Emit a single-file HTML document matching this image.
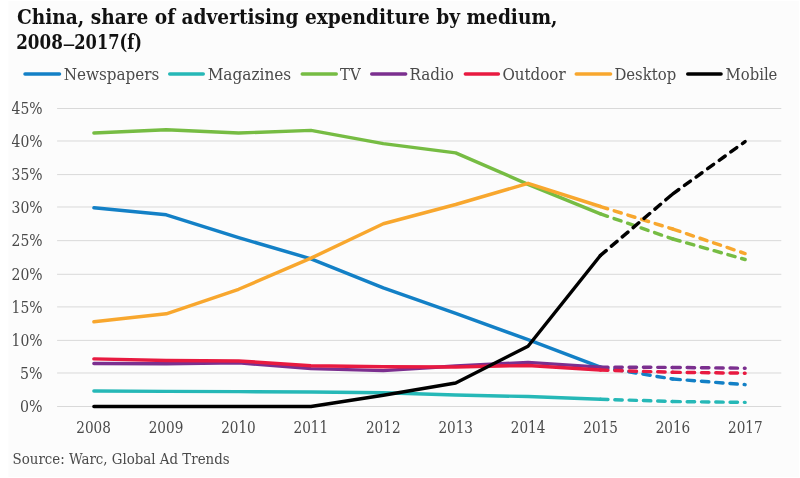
<!DOCTYPE html>
<html><head><meta charset="utf-8"><title>China, share of advertising expenditure by medium</title>
<style>
html,body{margin:0;padding:0;background:#fff;width:800px;height:478px;overflow:hidden}
svg{display:block;will-change:transform}
text{font-family:"DejaVu Serif Condensed","DejaVu Serif","Liberation Serif",serif;font-stretch:condensed}
.ttl{font-weight:bold;font-size:20.6px;fill:#111}
.lab text{font-size:15.8px;fill:#4a4a4a}
.leg text{font-size:16.5px;fill:#4a4a4a}
.grid line{stroke:#d9d9d9;stroke-width:1}
.ser polyline,.leg line{fill:none;stroke-width:3.45;stroke-linecap:round;stroke-linejoin:round}
.ser .d{stroke-dasharray:7.4 6.9;stroke-dashoffset:-0.15}
.src{font-size:14.7px;fill:#4a4a4a}
</style></head>
<body>
<svg width="800" height="478" viewBox="0 0 800 478">
<rect x="8.5" y="1" width="790.5" height="476" fill="#fcfcfc"/>
<text class="ttl" x="17" y="23.6" textLength="540.5" lengthAdjust="spacingAndGlyphs">China, share of advertising expenditure by medium,</text>
<text class="ttl" x="16.2" y="49.2" textLength="46.6" lengthAdjust="spacingAndGlyphs">2008</text><text class="ttl" transform="translate(62.3 0) scale(1.45 0.67)" x="0" y="72.96">–</text><text class="ttl" x="74.3" y="49.2" textLength="67.6" lengthAdjust="spacingAndGlyphs">2017(f)</text>
<g class="leg">
<line x1="24.98" x2="59.52" y1="74" y2="74" stroke="#1380c6"/>
<text x="63.65" y="79.5" textLength="95.60" lengthAdjust="spacingAndGlyphs">Newspapers</text>
<line x1="169.72" x2="203.28" y1="74" y2="74" stroke="#26b8b7"/>
<text x="207.65" y="79.5" textLength="83.60" lengthAdjust="spacingAndGlyphs">Magazines</text>
<line x1="302.23" x2="336.27" y1="74" y2="74" stroke="#76bc43"/>
<text x="340.00" y="79.5" textLength="20.60" lengthAdjust="spacingAndGlyphs">TV</text>
<line x1="371.73" x2="405.67" y1="74" y2="74" stroke="#7b2f8f"/>
<text x="409.40" y="79.5" textLength="44.60" lengthAdjust="spacingAndGlyphs">Radio</text>
<line x1="465.33" x2="498.38" y1="74" y2="74" stroke="#e81a40"/>
<text x="502.40" y="79.5" textLength="63.30" lengthAdjust="spacingAndGlyphs">Outdoor</text>
<line x1="576.23" x2="610.57" y1="74" y2="74" stroke="#f8a72e"/>
<text x="614.40" y="79.5" textLength="61.80" lengthAdjust="spacingAndGlyphs">Desktop</text>
<line x1="687.73" x2="721.07" y1="74" y2="74" stroke="#000000"/>
<text x="725.60" y="79.5" textLength="51.80" lengthAdjust="spacingAndGlyphs">Mobile</text>
</g>
<g class="grid">
<line x1="57.1" x2="781.3" y1="406.50" y2="406.50"/>
<line x1="57.1" x2="781.3" y1="373.00" y2="373.00"/>
<line x1="57.1" x2="781.3" y1="340.40" y2="340.40"/>
<line x1="57.1" x2="781.3" y1="306.90" y2="306.90"/>
<line x1="57.1" x2="781.3" y1="274.30" y2="274.30"/>
<line x1="57.1" x2="781.3" y1="240.65" y2="240.65"/>
<line x1="57.1" x2="781.3" y1="207.00" y2="207.00"/>
<line x1="57.1" x2="781.3" y1="174.60" y2="174.60"/>
<line x1="57.1" x2="781.3" y1="141.00" y2="141.00"/>
<line x1="57.1" x2="781.3" y1="108.50" y2="108.50"/>
</g>
<g class="lab">
<text x="20.10" y="412.10" textLength="22.5" lengthAdjust="spacingAndGlyphs">0%</text>
<text x="20.10" y="378.60" textLength="22.5" lengthAdjust="spacingAndGlyphs">5%</text>
<text x="11.60" y="346.00" textLength="31" lengthAdjust="spacingAndGlyphs">10%</text>
<text x="11.60" y="312.50" textLength="31" lengthAdjust="spacingAndGlyphs">15%</text>
<text x="11.60" y="279.90" textLength="31" lengthAdjust="spacingAndGlyphs">20%</text>
<text x="11.60" y="246.25" textLength="31" lengthAdjust="spacingAndGlyphs">25%</text>
<text x="11.60" y="212.60" textLength="31" lengthAdjust="spacingAndGlyphs">30%</text>
<text x="11.60" y="180.20" textLength="31" lengthAdjust="spacingAndGlyphs">35%</text>
<text x="11.60" y="146.60" textLength="31" lengthAdjust="spacingAndGlyphs">40%</text>
<text x="11.60" y="114.10" textLength="31" lengthAdjust="spacingAndGlyphs">45%</text>
<text x="76.30" y="433.3" textLength="34.6" lengthAdjust="spacingAndGlyphs">2008</text>
<text x="148.72" y="433.3" textLength="34.6" lengthAdjust="spacingAndGlyphs">2009</text>
<text x="221.14" y="433.3" textLength="34.6" lengthAdjust="spacingAndGlyphs">2010</text>
<text x="293.56" y="433.3" textLength="34.6" lengthAdjust="spacingAndGlyphs">2011</text>
<text x="365.98" y="433.3" textLength="34.6" lengthAdjust="spacingAndGlyphs">2012</text>
<text x="438.40" y="433.3" textLength="34.6" lengthAdjust="spacingAndGlyphs">2013</text>
<text x="510.82" y="433.3" textLength="34.6" lengthAdjust="spacingAndGlyphs">2014</text>
<text x="583.24" y="433.3" textLength="34.6" lengthAdjust="spacingAndGlyphs">2015</text>
<text x="655.66" y="433.3" textLength="34.6" lengthAdjust="spacingAndGlyphs">2016</text>
<text x="728.08" y="433.3" textLength="34.6" lengthAdjust="spacingAndGlyphs">2017</text>
</g>
<g class="ser">
<polyline points="93.90,207.83 166.26,214.79 238.61,237.63 310.97,258.82 383.32,287.96 455.68,313.39 528.03,339.62 600.39,367.10" stroke="#1380c6"/>
<polyline class="d" points="600.39,367.10 672.74,379.02" stroke="#1380c6"/>
<polyline class="d" points="672.74,379.02 745.10,384.65" stroke="#1380c6"/>
<polyline points="93.90,391.07 166.26,391.40 238.61,391.60 310.97,392.00 383.32,392.73 455.68,394.98 528.03,396.57 600.39,399.22" stroke="#26b8b7"/>
<polyline class="d" points="600.39,399.22 672.74,401.53" stroke="#26b8b7"/>
<polyline class="d" points="672.74,401.53 745.10,402.39" stroke="#26b8b7"/>
<polyline points="93.90,133.00 166.26,129.69 238.61,133.00 310.97,130.35 383.32,143.60 455.68,152.87 528.03,184.32 600.39,213.79" stroke="#76bc43"/>
<polyline class="d" points="600.39,213.79 672.74,238.96" stroke="#76bc43"/>
<polyline class="d" points="672.74,238.96 745.10,259.49" stroke="#76bc43"/>
<polyline points="93.90,363.46 166.26,363.72 238.61,362.79 310.97,368.62 383.32,370.61 455.68,365.91 528.03,362.40 600.39,367.10" stroke="#7b2f8f"/>
<polyline class="d" points="600.39,367.10 672.74,367.43" stroke="#7b2f8f"/>
<polyline class="d" points="672.74,367.43 745.10,368.22" stroke="#7b2f8f"/>
<polyline points="93.90,358.89 166.26,360.48 238.61,360.94 310.97,365.77 383.32,366.77 455.68,366.97 528.03,365.44 600.39,370.08" stroke="#e81a40"/>
<polyline class="d" points="600.39,370.08 672.74,372.26" stroke="#e81a40"/>
<polyline class="d" points="672.74,372.26 745.10,373.19" stroke="#e81a40"/>
<polyline points="93.90,321.74 166.26,313.79 238.61,289.29 310.97,258.16 383.32,223.73 455.68,204.52 528.03,183.33 600.39,206.51" stroke="#f8a72e"/>
<polyline class="d" points="600.39,206.51 672.74,229.02" stroke="#f8a72e"/>
<polyline class="d" points="672.74,229.02 745.10,253.53" stroke="#f8a72e"/>
<polyline points="93.90,406.50 166.26,406.50 238.61,406.50 310.97,406.50 383.32,395.24 455.68,382.99 528.03,346.24 600.39,255.51" stroke="#000000"/>
<polyline class="d" points="600.39,255.51 672.74,193.93" stroke="#000000"/>
<polyline class="d" points="672.74,193.93 745.10,141.61" stroke="#000000"/>
</g>
<text class="src" x="12.6" y="464.3" textLength="217" lengthAdjust="spacingAndGlyphs">Source: Warc, Global Ad Trends</text>
</svg>
</body></html>
